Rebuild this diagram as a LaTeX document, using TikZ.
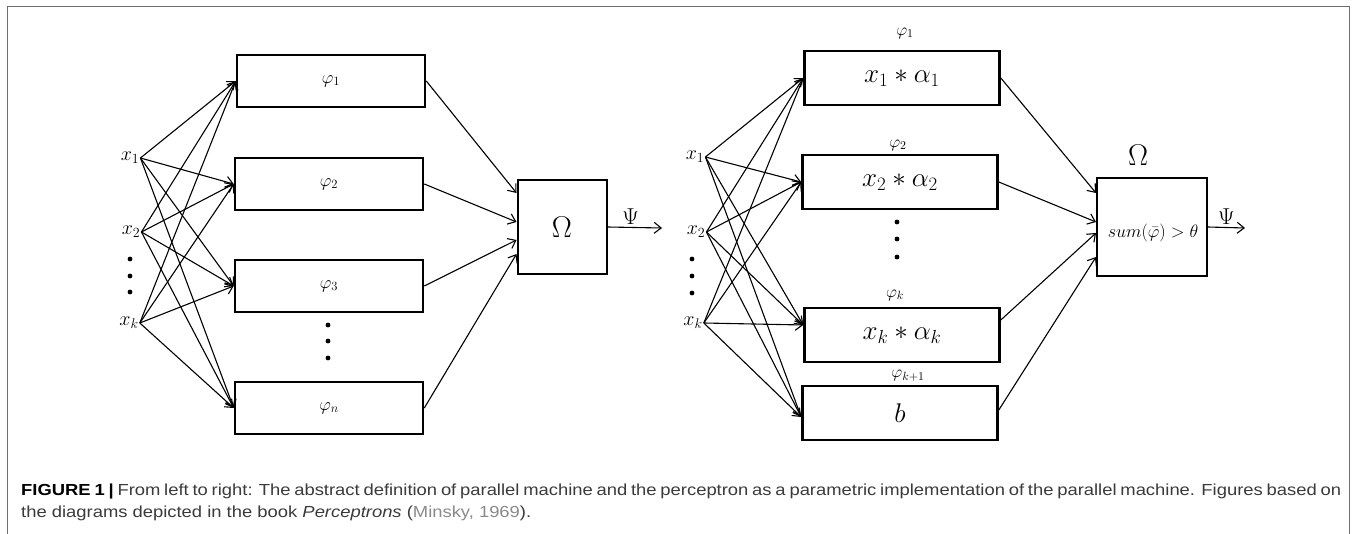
\RequirePackage{fix-cm}
\documentclass[tikz,border=0pt]{standalone}
\usepackage{fontspec}
\newfontfamily\capfont{Liberation Sans}[FakeStretch=1.15]
\usepackage{tikz}
\usetikzlibrary{arrows.meta, calc}
\definecolor{Frame}{HTML}{6E6E6E}
\definecolor{Caption}{HTML}{3A3A3A}
\definecolor{Cite}{HTML}{8A8A8A}

\begin{document}
\begin{tikzpicture}[
  x=1pt, y=-1pt,
  cell/.style={draw, line width=2.6pt, minimum width=188pt, minimum height=52pt, inner sep=0pt, font=\fontsize{18}{20}\selectfont},
  wcell/.style={cell, minimum width=195pt, minimum height=54pt, font=\fontsize{27}{30}\selectfont},
  hub/.style={draw, line width=2pt, inner sep=0pt},
  inp/.style={inner sep=1pt, font=\fontsize{20}{22}\selectfont},
  tag/.style={inner sep=0pt, font=\fontsize{17}{19}\selectfont},
  wire/.style={-{Straight Barb[length=7pt, width=11pt]}, line width=1.1pt},
  dot/.style={fill=black}
]
\useasboundingbox (0,0) rectangle (1357,534);
% frame
\draw[Frame, line width=1.6pt] (7.5,540) -- (7.5,6.5) -- (1349.5,6.5) -- (1349.5,540);

% left: parallel machine
\node[inp] (xa) at (130,158) {$x_1$};
\node[inp] (xb) at (131,232) {$x_2$};
\node[inp] (xk) at (129,323) {$x_k$};
\foreach \y in {259,276,292} \fill[dot] (130,\y) circle (2.4);

\node[cell] (pa) at (331,81) {$\varphi_1$};
\node[cell] (pb) at (329,184) {$\varphi_2$};
\node[cell] (pc) at (329,286) {$\varphi_3$};
\node[cell] (pn) at (329,408) {$\varphi_n$};
\foreach \y in {325,341,358} \fill[dot] (328,\y) circle (2.4);

\node[hub, minimum width=89pt, minimum height=94pt, font=\fontsize{30}{32}\selectfont] (om) at (562,227) {$\Omega$};
\coordinate (psi) at (662,228);

\foreach \s in {xa,xb,xk}
  \foreach \t in {pa,pb,pc,pn}
    \draw[wire] (\s.east) -- (\t.west);

\draw[wire] (pa.east) -- ([yshift=34pt]om.west);
\draw[wire] (pb.east) -- ([yshift=5pt]om.west);
\draw[wire] (pc.east) -- ([yshift=-13pt]om.west);
\draw[wire] (pn.east) -- ([yshift=-27pt]om.west);
\draw[wire] (om.east) -- node[above, inner sep=2pt, xshift=-4pt, font=\fontsize{23}{25}\selectfont] {$\Psi$} (psi);

% right: perceptron
\node[inp] (ya) at (695,157) {$x_1$};
\node[inp] (yb) at (696,232) {$x_2$};
\node[inp] (yk) at (693,323) {$x_k$};
\foreach \y in {259,276,293} \fill[dot] (692,\y) circle (2.4);

\node[wcell] (ra) at (902,78) {$x_1 * \alpha_1$};
\node[wcell] (rb) at (900,182) {$x_2 * \alpha_2$};
\node[wcell] (rk) at (902,335) {$x_k * \alpha_k$};
\node[wcell] (rc) at (900,413) {$b$};
\foreach \y in {222,239,257} \fill[dot] (897,\y) circle (2.4);

\node[tag] (ta) at (905,33) {$\varphi_1$};
\node[tag] (tb) at (898,145) {$\varphi_2$};
\node[tag] (tk) at (895,295) {$\varphi_k$};
\node[tag] (tc) at (908,376) {$\varphi_{k+1}$};

\node[hub, minimum width=110pt, minimum height=98pt] (on) at (1152,227) {};
\node[inner sep=0pt, font=\fontsize{18}{20}\selectfont] (rule) at (1153,233) {$sum(\bar{\varphi}) > \theta$};
\node[inner sep=0pt, font=\fontsize{30}{32}\selectfont] (onl) at (1138,155) {$\Omega$};
\coordinate (psr) at (1245,228);

\foreach \s in {ya,yb,yk} {
  \draw[wire] (\s.east) -- (ra.west);
  \draw[wire] (\s.east) -- (rb.west);
  \draw[wire] (\s.east) -- ([yshift=10pt]rk.west);
  \draw[wire] (\s.east) -- ([yshift=-4pt]rc.west);
}

\draw[wire] (ra.east) -- ([yshift=34pt]on.west);
\draw[wire] (rb.east) -- ([yshift=5pt]on.west);
\draw[wire] ([yshift=15pt]rk.east) -- ([yshift=-6pt]on.west);
\draw[wire] ([yshift=3pt]rc.east) -- ([yshift=-30pt]on.west);
\draw[wire] (on.east) -- node[above, inner sep=2pt, font=\fontsize{23}{25}\selectfont] {$\Psi$} (psr);

% caption
\node[anchor=base west, inner sep=0pt, text width=1320pt, align=justify, text=Caption,
      font=\capfont\fontsize{16}{22}\selectfont] (cap) at (21,495)
  {{\color{black}\bfseries FIGURE 1 |} From left to right: The abstract definition of parallel machine and the perceptron as a parametric implementation of the parallel machine. Figures based on\linebreak
   the diagrams depicted in the book \textit{Perceptrons} ({\color{Cite}Minsky, 1969}).};
\end{tikzpicture}
\end{document}
